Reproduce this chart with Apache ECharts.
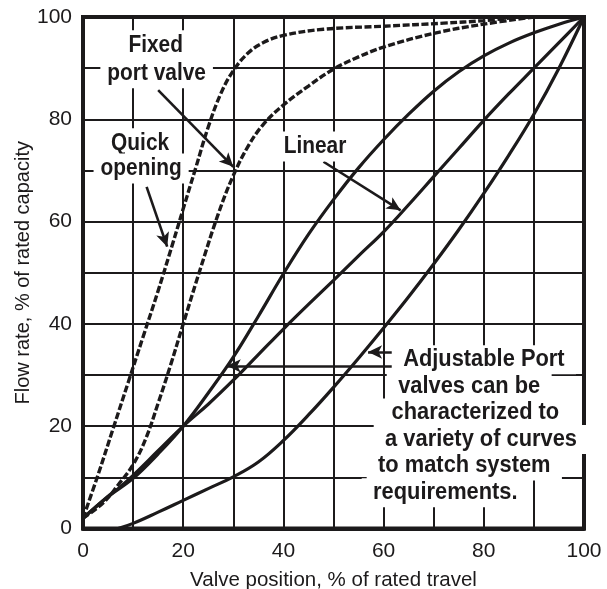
<!DOCTYPE html>
<html>
<head>
<meta charset="utf-8">
<script src="https://cdn.jsdelivr.net/npm/echarts@6/dist/echarts.min.js"></script>
<style>
html,body{margin:0;padding:0;background:#fff;}
#chart{width:607px;height:589px;}
</style>
</head>
<body>
<div id="chart"></div>
<script>
// ---- data (valve position %, flow %) ----
const quickOpening = [[0,2],[3,10.5],[6,19.5],[9,28.5],[12,37.5],[15,46.5],[18,56],[20,62.5],[22.5,70.5],[25,78.5],[27.5,85],[30,89.5],[33,93],[36,95],[40,96.4],[48,97.6],[60,98.2],[72,98.8],[80,99.3],[87,100]];
const fixedPort = [[0,2],[4,5],[7,8.5],[10,12.5],[12.5,17.5],[15,24.5],[17.5,32],[20,40],[23.5,51],[27,61.5],[30,69],[33,74.8],[36,79],[40,82.8],[45,86.5],[50,89.8],[55,92.2],[60,94.1],[70,96.8],[80,98.6],[90,100]];
const equalA = [[0,2],[5,6.2],[10,9.8],[15,14.6],[20,20],[25,26.5],[30,33.5],[35,41.5],[40,49.8],[45,57.5],[50,64.3],[55,70.5],[60,76],[65,81],[70,85.5],[75,89.3],[80,92.4],[85,94.9],[90,96.9],[95,98.6],[100,100]];
const linearB = [[0,2],[5,6.3],[7,7.8],[10,10.4],[15,15.2],[20,20],[25,24.3],[30,29],[35,34],[40,39],[45,43.8],[50,48.5],[55,53.3],[60,58],[65,63.3],[70,68.8],[75,74.3],[80,79.8],[85,85],[90,90],[95,95],[100,100]];
const lowerC = [[7,0],[10,1],[15,3.2],[20,5.5],[25,7.8],[30,10.1],[35,13],[40,17.2],[45,22.2],[50,27.6],[55,33.3],[60,39.2],[65,45.3],[70,51.7],[75,58.4],[80,65.5],[85,73],[90,81],[95,90],[100,100]];
const tickLabels = [0,20,40,60,80,100];

// ---- annotations (data coordinates) ----
const calloutTexts = [
  {text:'Fixed', at:[14.5,94.5], align:'center', size:24, squeeze:0.87},
  {text:'port valve', at:[14.7,89.0], align:'center', size:24, squeeze:0.87},
  {text:'Quick', at:[11.4,75.3], align:'center', size:24, squeeze:0.87},
  {text:'opening', at:[11.6,70.4], align:'center', size:24, squeeze:0.87},
  {text:'Linear', at:[46.3,74.7], align:'center', size:24, squeeze:0.87},
  {text:'Adjustable Port', at:[63.9,33.0], align:'left', size:23, squeeze:0.95},
  {text:'valves can be', at:[62.9,27.8], align:'left', size:23, squeeze:0.95},
  {text:'characterized to', at:[61.6,22.6], align:'left', size:23, squeeze:0.95},
  {text:'a variety of curves', at:[60.3,17.4], align:'left', size:23, squeeze:0.95},
  {text:'to match system', at:[58.9,12.2], align:'left', size:23, squeeze:0.95},
  {text:'requirements.', at:[57.9,7.0], align:'left', size:23, squeeze:0.95}
];
const arrows = [
  [[15.0,85.7],[30.0,70.7]],
  [[12.7,66.8],[16.8,55.1]],
  [[48.0,71.7],[63.4,62.2]],
  [[63.3,31.8],[28.7,31.8]],
  [[63.6,34.5],[56.9,34.5]]
];

const INK = '#1c1a1b';
const FONT = '"Liberation Sans", Arial, sans-serif';

const chart = echarts.init(document.getElementById('chart'), null, {renderer:'canvas'});

function solid(name, data){
  return {name, type:'line', data, smooth:0.4, showSymbol:false, symbol:'none',
    lineStyle:{color:INK, width:3.2, type:'solid'}, silent:true, z:3};
}
function dashed(name, data){
  return {name, type:'line', data, smooth:0.4, showSymbol:false, symbol:'none',
    lineStyle:{color:INK, width:3.4, type:[7,2.5]}, silent:true, z:3};
}

const axisCommon = {
  type:'value', min:0, max:100, interval:10,
  axisLine:{show:true, onZero:false, lineStyle:{color:INK, width:4}},
  axisTick:{show:false},
  splitLine:{show:true, lineStyle:{color:INK, width:2}},
  axisLabel:{color:INK, fontFamily:FONT, fontSize:21,
    formatter:v => tickLabels.includes(v) ? String(v) : ''},
  nameLocation:'middle',
  nameMoveOverlap:false,
  nameTextStyle:{color:INK, fontFamily:FONT, fontSize:20.5}
};

const option = {
  animation:false,
  backgroundColor:'#fff',
  grid:{left:83, right:23, top:17, bottom:60.5, containLabel:false, outerBoundsMode:'none',
    show:true, borderColor:INK, borderWidth:4, backgroundColor:'transparent'},
  xAxis:Object.assign({}, axisCommon, {name:'Valve position, % of rated travel', nameGap:41.5,
    axisLabel:Object.assign({}, axisCommon.axisLabel, {margin:12.5})}),
  yAxis:Object.assign({}, axisCommon, {name:'Flow rate, % of rated capacity', nameGap:50,
    axisLabel:Object.assign({}, axisCommon.axisLabel, {margin:11}),
    nameTextStyle:{color:INK, fontFamily:FONT, fontSize:20}}),
  series:[
    dashed('Quick opening', quickOpening),
    dashed('Fixed port valve', fixedPort),
    solid('Adjustable A', equalA),
    solid('Linear', linearB),
    Object.assign(solid('Adjustable C', lowerC), {
      markLine:{
        silent:true, symbol:['none','arrow'], symbolSize:[10,14],
        label:{show:false},
        lineStyle:{color:INK, width:2.6, type:'solid'},
        emphasis:{disabled:true},
        data: arrows.map(a => [{coord:a[0]},{coord:a[1]}])
      }
    })
  ]
};
chart.setOption(option);

const graphics = calloutTexts.map(t => {
  const p = chart.convertToPixel({gridIndex:0}, t.at);
  const pad = t.align === 'left' ? [3,12,3,12] : [3,8,3,8];
  const x = t.align === 'left' ? p[0] - pad[3] * t.squeeze : p[0];
  return {
    type:'text', x:x, y:p[1], scaleX:t.squeeze, scaleY:1, z:50, silent:true,
    style:{text:t.text, align:t.align, verticalAlign:'middle', fill:INK,
      font:'bold ' + t.size + 'px ' + FONT,
      backgroundColor:'#fff', padding:pad}
  };
});
chart.setOption({graphic:graphics});
</script>
</body>
</html>
